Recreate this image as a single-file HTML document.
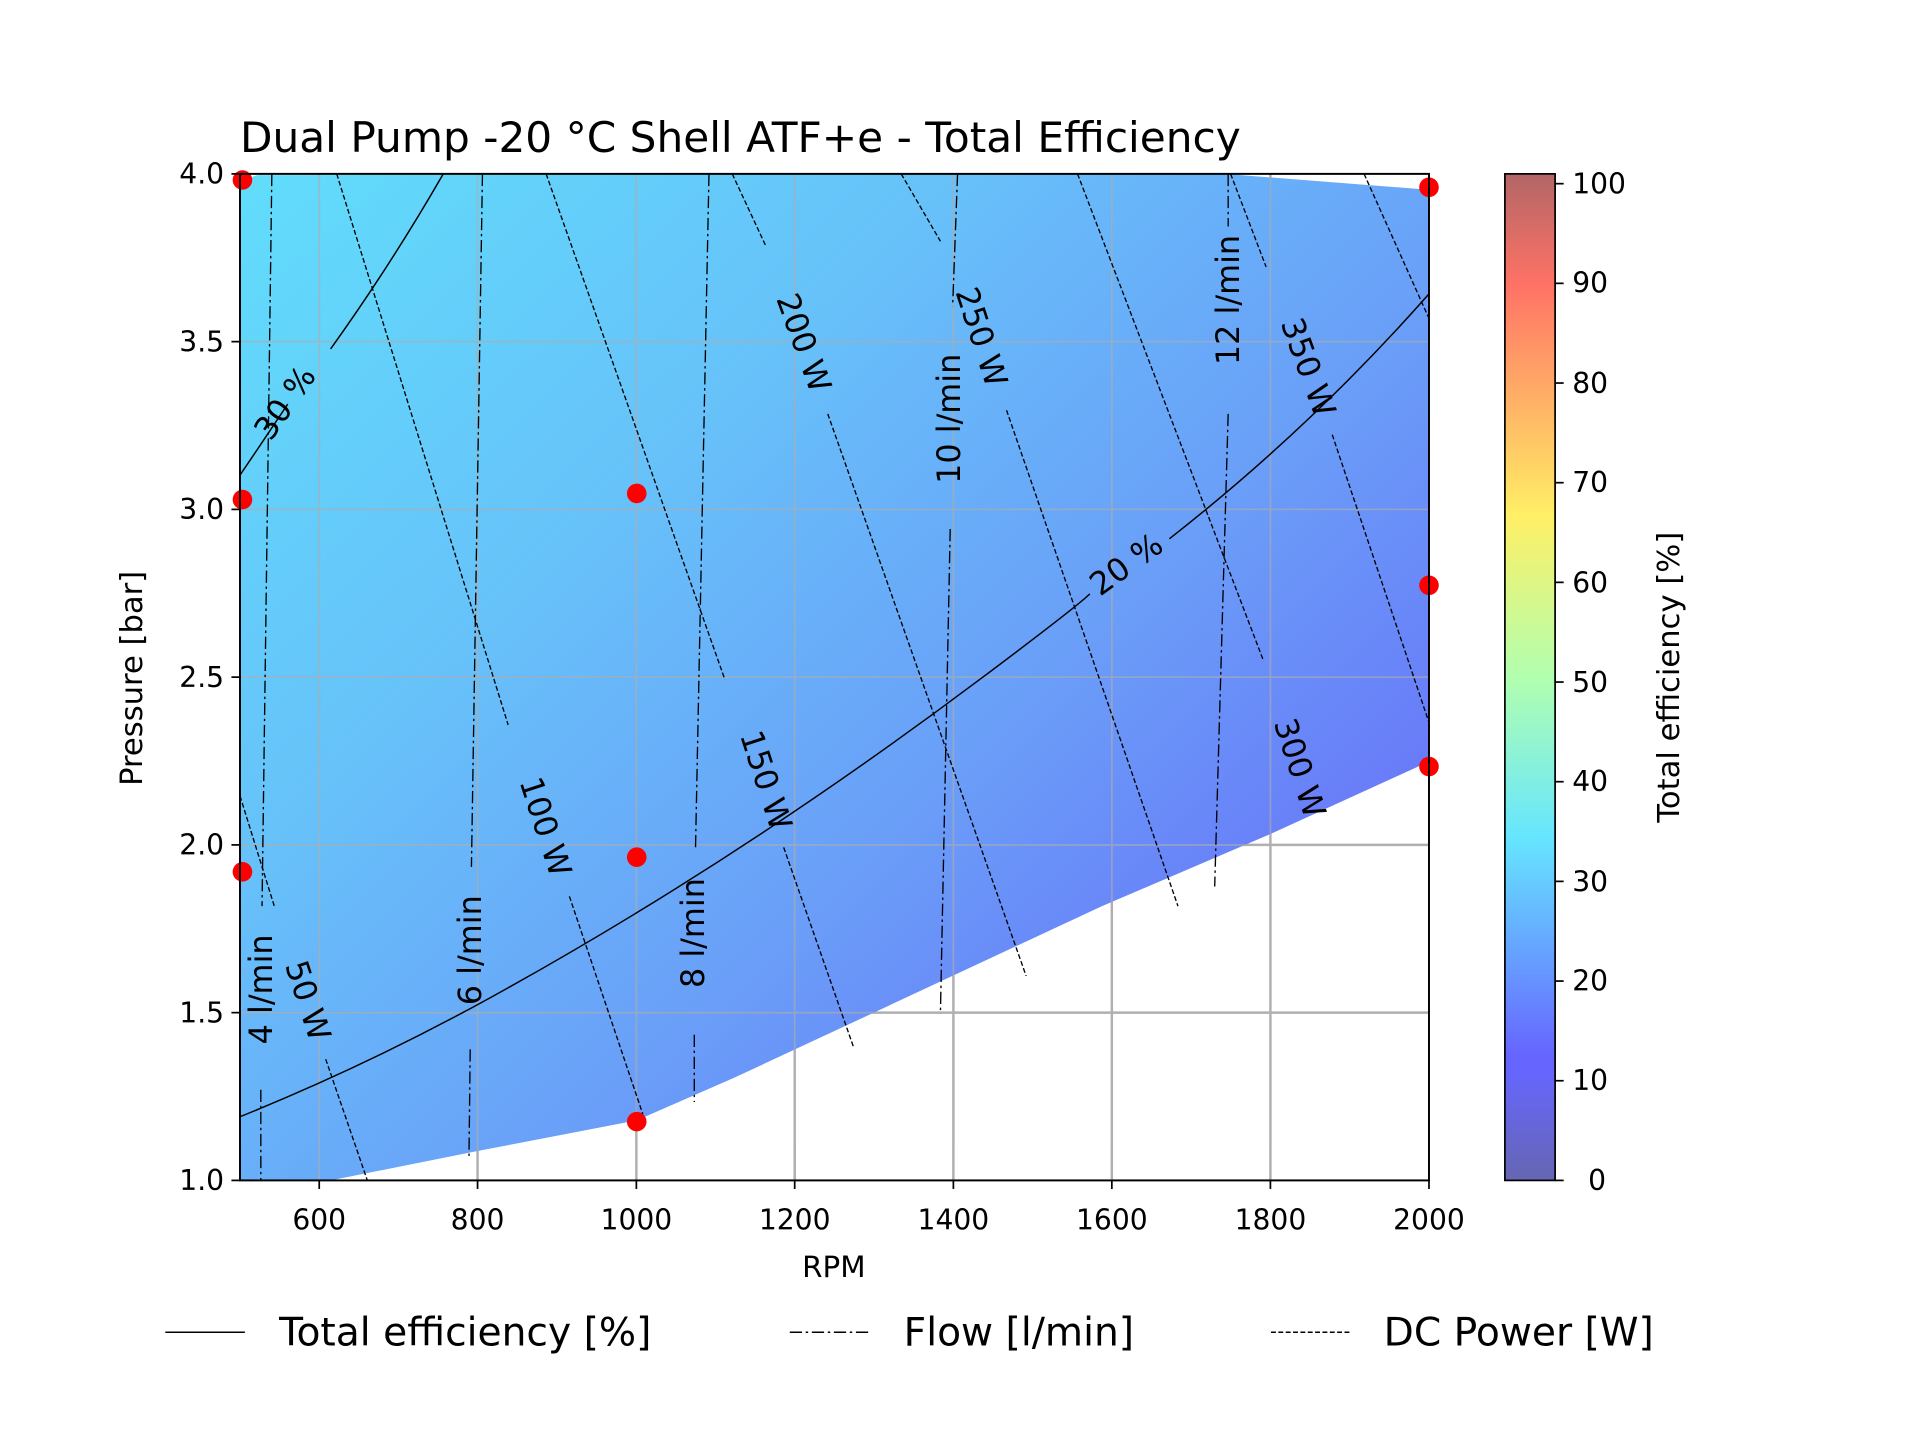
<!DOCTYPE html>
<html><head><meta charset="utf-8"><style>html,body{margin:0;padding:0;background:#fff}svg{display:block}</style></head>
<body>
<svg width="1920" height="1440" viewBox="0 0 1568 1176" xmlns="http://www.w3.org/2000/svg" font-family="'DejaVu Sans','Liberation Sans',sans-serif">
<defs>
<linearGradient id="fill" x1="196" y1="142" x2="1000" y2="964" gradientUnits="userSpaceOnUse">
<stop offset="0" stop-color="#5cdcfb"/>
<stop offset="0.35" stop-color="#62c0f9"/>
<stop offset="0.65" stop-color="#659cf8"/>
<stop offset="1" stop-color="#6466f8"/>
</linearGradient>
<linearGradient id="jet" x1="0" y1="1" x2="0" y2="0">
<stop offset="0" stop-color="#00007f"/>
<stop offset="0.11" stop-color="#0000ff"/>
<stop offset="0.125" stop-color="#0000ff"/>
<stop offset="0.34" stop-color="#00d4ff"/>
<stop offset="0.5" stop-color="#7dff7a"/>
<stop offset="0.66" stop-color="#ffe500"/>
<stop offset="0.89" stop-color="#ff1400"/>
<stop offset="1" stop-color="#7f0000"/>
</linearGradient>
<clipPath id="ax"><rect x="196" y="142" width="971" height="822"/></clipPath>
</defs>
<text x="196" y="124" font-size="34.5" fill="#000">Dual Pump -20 °C Shell ATF+e - Total Efficiency</text>
<g stroke="#b0b0b0" stroke-width="2">
<line x1="260.7" y1="142" x2="260.7" y2="964"/><line x1="390" y1="142" x2="390" y2="964"/><line x1="519.7" y1="142" x2="519.7" y2="964"/><line x1="649" y1="142" x2="649" y2="964"/><line x1="778.6" y1="142" x2="778.6" y2="964"/><line x1="908" y1="142" x2="908" y2="964"/><line x1="1037.5" y1="142" x2="1037.5" y2="964"/>
<line x1="196" y1="827" x2="1167" y2="827"/><line x1="196" y1="690" x2="1167" y2="690"/><line x1="196" y1="553" x2="1167" y2="553"/><line x1="196" y1="416" x2="1167" y2="416"/><line x1="196" y1="279" x2="1167" y2="279"/>
</g>
<g clip-path="url(#ax)">
<polygon points="196,148 210,143 1000,142 1167,155 1167,622 1040,680 900,740 600,880 520,915 390,940 270,964 196,964" fill="url(#fill)" opacity="0.97"/>
<g stroke="#b0b0b0" stroke-width="1.5" opacity="0.6">
<line x1="260.7" y1="142" x2="260.7" y2="964"/><line x1="390" y1="142" x2="390" y2="964"/><line x1="519.7" y1="142" x2="519.7" y2="964"/><line x1="649" y1="142" x2="649" y2="964"/><line x1="778.6" y1="142" x2="778.6" y2="964"/><line x1="908" y1="142" x2="908" y2="964"/><line x1="1037.5" y1="142" x2="1037.5" y2="964"/>
<line x1="196" y1="827" x2="1167" y2="827"/><line x1="196" y1="690" x2="1167" y2="690"/><line x1="196" y1="553" x2="1167" y2="553"/><line x1="196" y1="416" x2="1167" y2="416"/><line x1="196" y1="279" x2="1167" y2="279"/>
</g>
<path d="M196,388 Q215,360 235,330 M270,285 Q320,215 362,142" fill="none" stroke="#000" stroke-width="1.2"/>
<path d="M196,912 Q300,870 400,815 Q600,705 800,555 Q880,495 890,485 M955,440 Q1070,350 1167,240" fill="none" stroke="#000" stroke-width="1.2"/>
<g fill="none" stroke="#000" stroke-width="1.1" stroke-dasharray="10,3,2,3">
<path d="M222,142 L214,740 M213,890 L213,964"/>
<path d="M394,142 L385,708 M384,857 L383,945"/>
<path d="M579,142 L568,693 M567,845 L567,900"/>
<path d="M782,142 L778,250 M776,432 L768,828"/>
<path d="M1003,142 L1003,185 M1003,338 L992,724"/>
</g>
<g fill="none" stroke="#000" stroke-width="1.1" stroke-dasharray="4,2">
<path d="M196,650 L224,740"/>
<path d="M266,865 L300,964"/>
<path d="M275,142 L415,592"/>
<path d="M465,732 L525,910"/>
<path d="M446,142 L592,555"/>
<path d="M640,692 L697,855"/>
<path d="M598,142 L625,200"/>
<path d="M676,338 L838,797"/>
<path d="M736,142 L768,197"/>
<path d="M822,335 L962,740"/>
<path d="M1005,142 L1034,218"/>
<path d="M880,142 L1032,540"/>
<path d="M1114,142 L1167,260"/>
<path d="M1088,355 L1167,590"/>
</g>
</g>
<g font-size="26" fill="#000">
<text transform="translate(240,334) rotate(-55)" text-anchor="middle">30 %</text>
<text transform="translate(925,468) rotate(-36)" text-anchor="middle">20 %</text>
<text transform="translate(222,808) rotate(-90)" text-anchor="middle">4 l/min</text>
<text transform="translate(393,776) rotate(-90)" text-anchor="middle">6 l/min</text>
<text transform="translate(575,762) rotate(-90)" text-anchor="middle">8 l/min</text>
<text transform="translate(784,342) rotate(-90)" text-anchor="middle">10 l/min</text>
<text transform="translate(1012,245) rotate(-90)" text-anchor="middle">12 l/min</text>
<text transform="translate(243,820) rotate(72)" text-anchor="middle">50 W</text>
<text transform="translate(437,678) rotate(72)" text-anchor="middle">100 W</text>
<text transform="translate(617,640) rotate(72)" text-anchor="middle">150 W</text>
<text transform="translate(648,283) rotate(70)" text-anchor="middle">200 W</text>
<text transform="translate(793,278) rotate(72)" text-anchor="middle">250 W</text>
<text transform="translate(1053,630) rotate(72)" text-anchor="middle">300 W</text>
<text transform="translate(1060,303) rotate(70)" text-anchor="middle">350 W</text>
</g>
<g fill="#ff0000">
<circle cx="198" cy="147" r="8"/><circle cx="198" cy="408" r="8"/><circle cx="198" cy="712" r="8"/>
<circle cx="520" cy="403" r="8"/><circle cx="520" cy="700" r="8"/><circle cx="520" cy="916" r="8"/>
<circle cx="1167" cy="153" r="8"/><circle cx="1167" cy="478" r="8"/><circle cx="1167" cy="626" r="8"/>
</g>
<rect x="196" y="142" width="971" height="822" fill="none" stroke="#000" stroke-width="1.6"/>
<g stroke="#000" stroke-width="1.4">
<line x1="260.7" y1="964" x2="260.7" y2="971"/><line x1="390" y1="964" x2="390" y2="971"/><line x1="519.7" y1="964" x2="519.7" y2="971"/><line x1="649" y1="964" x2="649" y2="971"/><line x1="778.6" y1="964" x2="778.6" y2="971"/><line x1="908" y1="964" x2="908" y2="971"/><line x1="1037.5" y1="964" x2="1037.5" y2="971"/><line x1="1167" y1="964" x2="1167" y2="971"/>
<line x1="189" y1="964" x2="196" y2="964"/><line x1="189" y1="827" x2="196" y2="827"/><line x1="189" y1="690" x2="196" y2="690"/><line x1="189" y1="553" x2="196" y2="553"/><line x1="189" y1="416" x2="196" y2="416"/><line x1="189" y1="279" x2="196" y2="279"/><line x1="189" y1="142" x2="196" y2="142"/>
</g>
<g font-size="23" fill="#000" text-anchor="middle">
<text x="260.7" y="1004">600</text><text x="390" y="1004">800</text><text x="519.7" y="1004">1000</text><text x="649" y="1004">1200</text><text x="778.6" y="1004">1400</text><text x="908" y="1004">1600</text><text x="1037.5" y="1004">1800</text><text x="1167" y="1004">2000</text>
</g>
<text x="681" y="1043" font-size="24" text-anchor="middle">RPM</text>
<g font-size="23" fill="#000" text-anchor="end">
<text x="183" y="972">1.0</text><text x="183" y="835">1.5</text><text x="183" y="698">2.0</text><text x="183" y="561">2.5</text><text x="183" y="424">3.0</text><text x="183" y="287">3.5</text><text x="183" y="150">4.0</text>
</g>
<text transform="translate(116,554) rotate(-90)" font-size="25" text-anchor="middle">Pressure [bar]</text>
<rect x="1229" y="142" width="41" height="822" fill="url(#jet)" opacity="0.6"/>
<rect x="1229" y="142" width="41" height="822" fill="none" stroke="#000" stroke-width="1.4"/>
<g stroke="#000" stroke-width="1.4">
<line x1="1270" y1="964" x2="1277" y2="964"/><line x1="1270" y1="882.6" x2="1277" y2="882.6"/><line x1="1270" y1="801.2" x2="1277" y2="801.2"/><line x1="1270" y1="719.8" x2="1277" y2="719.8"/><line x1="1270" y1="638.4" x2="1277" y2="638.4"/><line x1="1270" y1="557" x2="1277" y2="557"/><line x1="1270" y1="475.6" x2="1277" y2="475.6"/><line x1="1270" y1="394.2" x2="1277" y2="394.2"/><line x1="1270" y1="312.8" x2="1277" y2="312.8"/><line x1="1270" y1="231.4" x2="1277" y2="231.4"/><line x1="1270" y1="150" x2="1277" y2="150"/>
</g>
<g font-size="23" fill="#000">
<text x="1297" y="972">0</text><text x="1284" y="890">10</text><text x="1284" y="809">20</text><text x="1284" y="728">30</text><text x="1284" y="646">40</text><text x="1284" y="565">50</text><text x="1284" y="484">60</text><text x="1284" y="402">70</text><text x="1284" y="321">80</text><text x="1284" y="239">90</text><text x="1284" y="158">100</text>
</g>
<text transform="translate(1371,553) rotate(-90)" font-size="25" text-anchor="middle">Total efficiency [%]</text>
<line x1="135" y1="1088" x2="200" y2="1088" stroke="#000" stroke-width="1.2"/>
<line x1="645" y1="1088" x2="710" y2="1088" stroke="#000" stroke-width="1.2" stroke-dasharray="10,3,2,3"/>
<line x1="1038" y1="1088" x2="1103" y2="1088" stroke="#000" stroke-width="1.2" stroke-dasharray="4,2"/>
<g font-size="32" fill="#000">
<text x="228" y="1099">Total efficiency [%]</text>
<text x="738" y="1099">Flow [l/min]</text>
<text x="1130" y="1099">DC Power [W]</text>
</g>
</svg>
</body></html>
